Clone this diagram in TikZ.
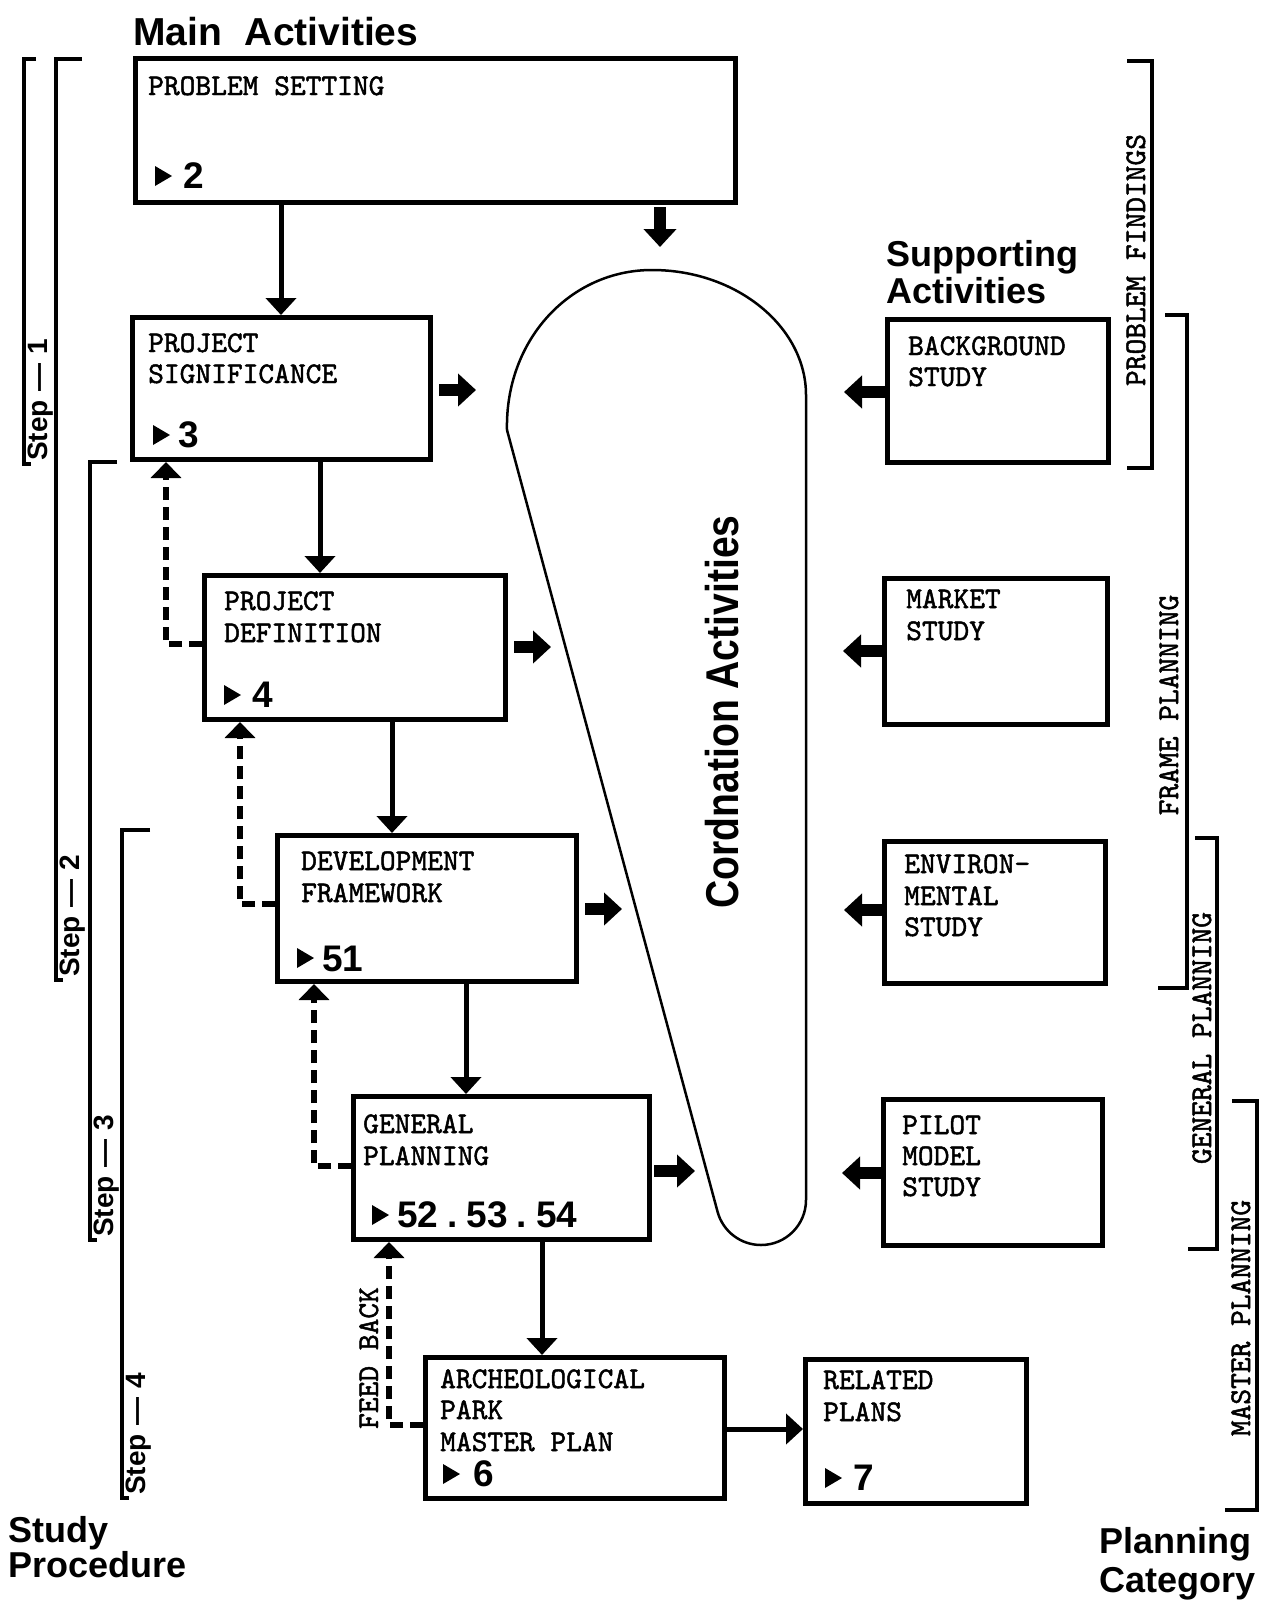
\documentclass[tikz,border=0pt]{standalone}
\usepackage{fontspec}
\setmainfont{Liberation Sans}
\newfontfamily\twfont{lmmono10-regular.otf}[FakeBold=1.6]
\usepackage{graphicx}
\usetikzlibrary{arrows.meta}
\tikzset{
  box/.style={draw, line width=5pt, inner sep=0pt, anchor=north west},
  tw/.style={font=\fontsize{30}{30}\selectfont\twfont, inner sep=0pt, anchor=base west},
  num/.style={font=\fontsize{37}{37}\selectfont\bfseries, inner sep=0pt, anchor=base west},
  flow/.style={line width=5pt, -{Triangle[width=30pt,length=17pt]}},
  fb/.style={line width=6pt, dash pattern=on 13pt off 7pt, -{Triangle[width=30pt,length=16pt]}},
  blk/.style={line width=12pt, -{Triangle[width=32pt,length=18pt]}},
  brk/.style={line width=4pt, line join=miter},
  stepl/.style={font=\fontsize{28}{28}\selectfont\bfseries, inner sep=0pt, rotate=90, anchor=base west},
  catl/.style={font=\fontsize{30}{30}\selectfont\twfont, inner sep=0pt, rotate=90, anchor=base},
  head/.style={font=\fontsize{36}{36}\selectfont\bfseries, inner sep=0pt, anchor=base west},
  coord/.style={line width=2.5pt},
}
\newcommand\mk[2]{\fill (#1,#2) -- ++(0,20) -- ++(17,-10) -- cycle;}
\begin{document}
\begin{tikzpicture}[x=1pt,y=1pt]
\fill[white] (0,0) rectangle (1264,-1604);
\useasboundingbox (0,0) rectangle (1264,-1604);

% headings
\node[head, font=\fontsize{39}{39}\selectfont\bfseries] (hmain) at (133,-45) {Main\hspace{12pt} Activities};
\node[head] (hsup1) at (886,-266) {Supporting};
\node[head] (hsup2) at (886,-303) {Activities};
\node[head, font=\fontsize{36}{36}\selectfont\bfseries] (hst1) at (8,-1542) {Study};
\node[head, font=\fontsize{36}{36}\selectfont\bfseries] (hst2) at (8,-1577) {Procedure};
\node[head, anchor=base east] (hpl1) at (1252,-1553) {Planning};
\node[head, anchor=base east] (hpl2) at (1256,-1592) {Category};

% main boxes
\node[box, minimum width=600pt, minimum height=144pt] (ps) at (133,-56) {};
\node[box, minimum width=298pt, minimum height=142pt] (psig) at (130,-315) {};
\node[box, minimum width=301pt, minimum height=144pt] (pd) at (202,-573) {};
\node[box, minimum width=299pt, minimum height=146pt] (df) at (275,-833) {};
\node[box, minimum width=296pt, minimum height=143pt] (gp) at (351,-1094) {};
\node[box, minimum width=299pt, minimum height=141pt] (arch) at (423,-1355) {};
\node[box, minimum width=221pt, minimum height=144pt] (rp) at (803,-1357) {};
% supporting boxes
\node[box, minimum width=221pt, minimum height=143pt] (bg) at (885,-317) {};
\node[box, minimum width=223pt, minimum height=146pt] (ms) at (882,-576) {};
\node[box, minimum width=221pt, minimum height=142pt] (env) at (882,-839) {};
\node[box, minimum width=219pt, minimum height=146pt] (pilot) at (881,-1097) {};

% box texts
\node[tw] (ps1) at (148,-95) {PROBLEM SETTING};
\mk{155}{-186}
\node[num] (psn) at (183,-188) {2};

\node[tw] (psig1) at (148,-352) {PROJECT};
\node[tw] (psig2) at (148,-383) {SIGNIFICANCE};
\mk{153}{-445}
\node[num] (psign) at (178,-447) {3};

\node[tw] (pd1) at (224,-610) {PROJECT};
\node[tw] (pd2) at (224,-642) {DEFINITION};
\mk{224}{-705}
\node[num] (pdn) at (252,-707) {4};

\node[tw] (df1) at (301,-870) {DEVELOPMENT};
\node[tw] (df2) at (301,-902) {FRAMEWORK};
\mk{297}{-968}
\node[num] (dfn) at (322,-971) {51};

\node[tw] (gp1) at (363,-1133) {GENERAL};
\node[tw] (gp2) at (363,-1165) {PLANNING};
\mk{372}{-1225}
\node[num] (gpn) at (397,-1227) {52\kern9pt.\kern9pt53\kern9pt.\kern9pt54};

\node[tw] (ar1) at (440,-1388) {ARCHEOLOGICAL};
\node[tw] (ar2) at (440,-1419) {PARK};
\node[tw] (ar3) at (440,-1451) {MASTER PLAN};
\mk{443}{-1484}
\node[num] (arn) at (473,-1486) {6};

\node[tw] (rp1) at (823,-1389) {RELATED};
\node[tw] (rp2) at (823,-1421) {PLANS};
\mk{825}{-1488}
\node[num] (rpn) at (853,-1490) {7};

\node[tw] (bg1) at (908,-355) {BACKGROUND};
\node[tw] (bg2) at (908,-386) {STUDY};
\node[tw] (ms1) at (906,-608) {MARKET};
\node[tw] (ms2) at (906,-640) {STUDY};
\node[tw] (env1) at (904,-873) {ENVIRON-};
\node[tw] (env2) at (904,-905) {MENTAL};
\node[tw] (env3) at (904,-936) {STUDY};
\node[tw] (pi1) at (902,-1134) {PILOT};
\node[tw] (pi2) at (902,-1165) {MODEL};
\node[tw] (pi3) at (902,-1196) {STUDY};

% coordination shape
\draw[coord] (806,-395) -- (806,-1200) arc[start angle=0, end angle=-164.7, radius=45]
  -- (507,-430) .. controls (505,-340) and (570,-270) .. (652,-270)
  .. controls (737,-270) and (806,-327) .. (806,-395) -- cycle;
\node[rotate=90, anchor=base, inner sep=0pt, font=\fontsize{46}{46}\selectfont\bfseries] (coordt) at (738,-712) {\scalebox{0.85}[1]{Cordnation Activities}};

% main flow
\draw[flow] (ps.south -| 281,0) -- (psig.north -| 281,0);
\draw[flow] (psig.south -| 320,0) -- (pd.north -| 320,0);
\draw[flow] (pd.south -| 392,0) -- (df.north -| 392,0);
\draw[flow] (df.south -| 466,0) -- (gp.north -| 466,0);
\draw[flow] (gp.south -| 542,0) -- (arch.north -| 542,0);
\draw[flow] (arch.east |- 0,-1429) -- (rp.west |- 0,-1429);

% feedback
\draw[fb] (pd.west |- 0,-644) -| (psig.south -| 166,0);
\draw[fb] (df.west |- 0,-904) -| (pd.south -| 240,0);
\draw[fb] (gp.west |- 0,-1166) -| (df.south -| 314,0);
\draw[fb] (arch.west |- 0,-1425) -| (gp.south -| 389,0);
\node[tw, rotate=90, anchor=base] (fbt) at (378,-1358) {FEED BACK};

% block arrows
\coordinate (ca0) at (660,-247);
\coordinate (c1) at (476,-390);
\coordinate (c2) at (551,-647);
\coordinate (c3) at (622,-909);
\coordinate (c4) at (695,-1171);
\coordinate (s1) at (844,-392);
\coordinate (s2) at (843,-651);
\coordinate (s3) at (844,-910);
\coordinate (s4) at (842,-1173);
\draw[blk] ([yshift=-2pt]ps.south -| ca0) -- (ca0);
\draw[blk] ([xshift=6pt]psig.east |- c1) -- (c1);
\draw[blk] ([xshift=6pt]pd.east |- c2) -- (c2);
\draw[blk] ([xshift=6pt]df.east |- c3) -- (c3);
\draw[blk] ([xshift=2pt]gp.east |- c4) -- (c4);
\draw[blk] (bg.west |- s1) -- (s1);
\draw[blk] (ms.west |- s2) -- (s2);
\draw[blk] (env.west |- s3) -- (s3);
\draw[blk] (pilot.west |- s4) -- (s4);

% step brackets (left)
\draw[brk] (36,-59) -- (24,-59) -- (24,-464) -- (31,-464);
\node[stepl] (st1) at (47,-461) {Step\hspace{9pt}—\hspace{9pt}1};
\draw[brk] (82,-59) -- (56,-59) -- (56,-980) -- (63,-980);
\node[stepl] (st2) at (79,-977) {Step\hspace{9pt}—\hspace{9pt}2};
\draw[brk] (117,-462) -- (90,-462) -- (90,-1240) -- (97,-1240);
\node[stepl] (st3) at (113,-1237) {Step\hspace{9pt}—\hspace{9pt}3};
\draw[brk] (150,-830) -- (122,-830) -- (122,-1498) -- (129,-1498);
\node[stepl] (st4) at (145,-1495) {Step\hspace{9pt}—\hspace{9pt}4};

% category brackets (right)
\draw[brk] (1127,-61) -- (1152,-61) -- (1152,-468) -- (1127,-468);
\node[catl] (cat1) at (1145,-260) {PROBLEM FINDINGS};
\draw[brk] (1165,-315) -- (1187,-315) -- (1187,-988) -- (1158,-988);
\node[catl] (cat2) at (1178,-705) {FRAME PLANNING};
\draw[brk] (1195,-838) -- (1217,-838) -- (1217,-1249) -- (1188,-1249);
\node[catl] (cat3) at (1211,-1038) {GENERAL PLANNING};
\draw[brk] (1232,-1101) -- (1257,-1101) -- (1257,-1510) -- (1225,-1510);
\node[catl] (cat4) at (1250,-1318) {MASTER PLANNING};
\end{tikzpicture}
\end{document}
